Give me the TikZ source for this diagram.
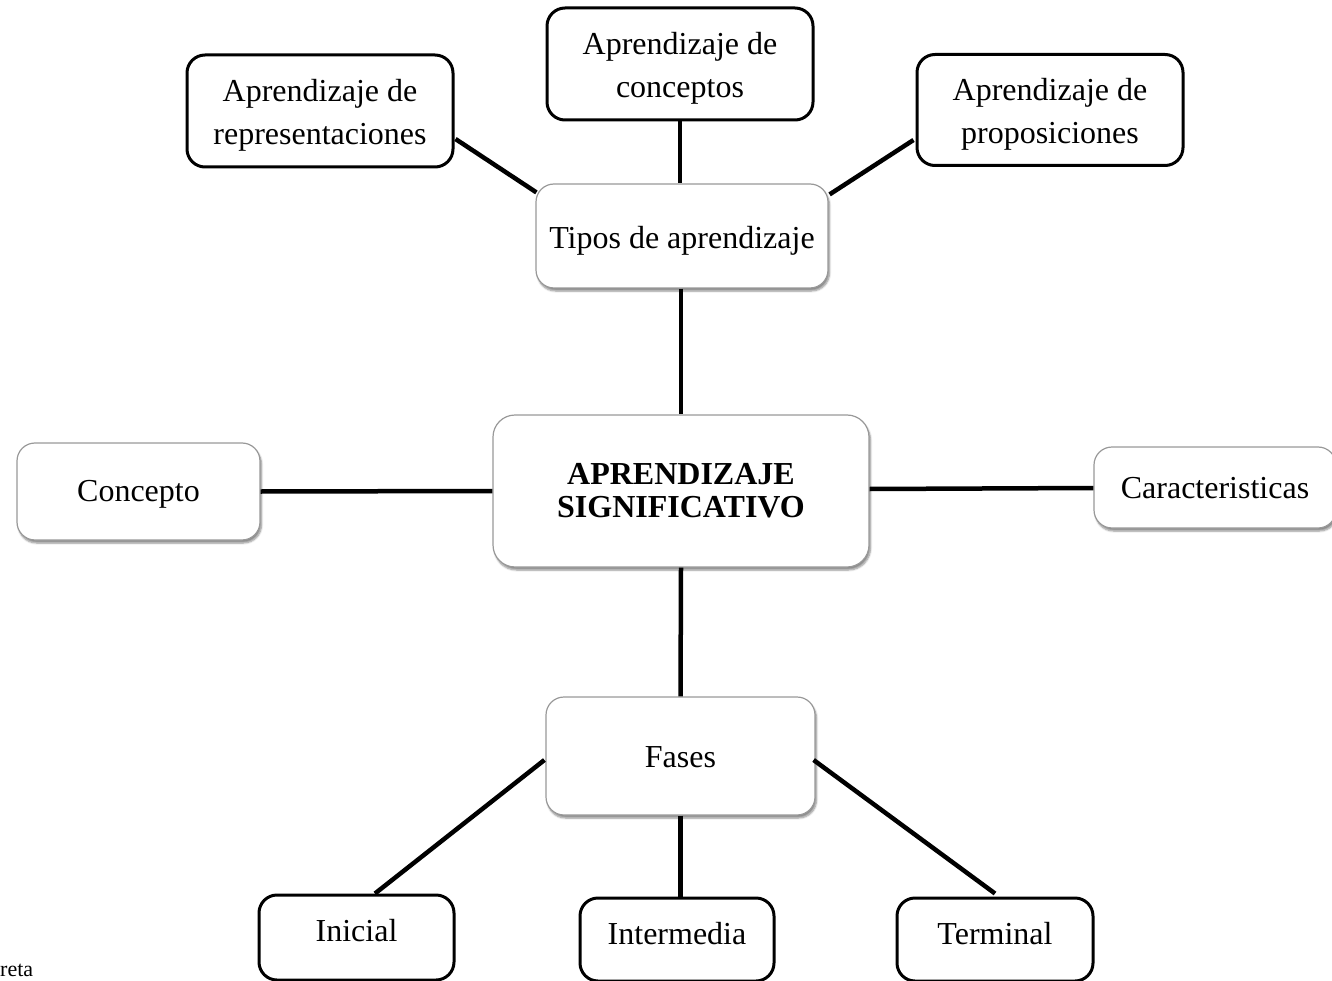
\documentclass[tikz,border=0pt]{standalone}
\usepackage{fontspec}
\setmainfont{Liberation Serif}
\usetikzlibrary{shadows.blur,calc}
\newsavebox{\liftbox}
\newcommand{\liftxt}[2]{\sbox{\liftbox}{\begin{tabular}{@{}c@{}}#2\end{tabular}}\raisebox{#1}[\ht\liftbox][\dp\liftbox]{\usebox{\liftbox}}}
\begin{document}
\begin{tikzpicture}[x=1pt,y=-1pt,
  softbox/.style={draw=black!40, line width=1.2pt, rounded corners=18pt, fill=white,
    blur shadow={shadow xshift=1.5pt, shadow yshift=-3pt, shadow blur steps=6, shadow opacity=45},
    align=center, inner sep=0pt, font=\fontsize{32}{42}\selectfont},
  hardbox/.style={draw=black, line width=3pt, rounded corners=18pt, fill=white,
    align=center, inner sep=0pt, font=\fontsize{32}{43}\selectfont},
  link/.style={line width=4.5pt, black}]
\clip (0,0) rectangle (1332,981);
\useasboundingbox (0,0) rectangle (1332,981);

% top boxes
\node[hardbox, minimum width=266pt, minimum height=112pt] (rep) at (320,111) {\liftxt{-3pt}{Aprendizaje de\\representaciones}};
\node[hardbox, minimum width=266pt, minimum height=112pt] (con) at (680,64) {\liftxt{-3pt}{Aprendizaje de\\conceptos}};
\node[hardbox, minimum width=266pt, minimum height=111pt] (prop) at (1050,110) {\liftxt{-3pt}{Aprendizaje de\\proposiciones}};

% shadowed boxes
\node[softbox, minimum width=292pt, minimum height=104pt] (tipos) at (682,236) {\liftxt{-4pt}{Tipos de aprendizaje}};
\node[softbox, minimum width=376pt, minimum height=152pt, rounded corners=22pt,
      font=\fontsize{32}{33}\selectfont\bfseries] (central) at (681,491) {\liftxt{-3pt}{APRENDIZAJE\\SIGNIFICATIVO}};
\node[softbox, minimum width=243pt, minimum height=97pt] (concepto) at (138.5,491.5) {\liftxt{-2pt}{Concepto}};
\node[softbox, minimum width=242pt, minimum height=81pt] (caract) at (1215,487.5) {\liftxt{-3pt}{Caracteristicas}};
\node[softbox, minimum width=269pt, minimum height=118pt] (fases) at (680.5,756) {\liftxt{-3pt}{Fases}};

% bottom boxes
\node[hardbox, minimum width=195pt, minimum height=85pt] (ini) at (356.5,937.5) {\liftxt{5pt}{Inicial}};
\node[hardbox, minimum width=194pt, minimum height=83pt] (inter) at (677,939.5) {\liftxt{4pt}{Intermedia}};
\node[hardbox, minimum width=196pt, minimum height=83pt] (term) at (995,939.5) {\liftxt{4pt}{Terminal}};

% connectors
\draw[link] ($(rep.east)+(1,28)$) -- ($(tipos.north west)+(1,9)$);
\draw[link] (con.south) -- (con.south |- tipos.north);
\draw[link] ($(prop.west)+(-2,30)$) -- ($(tipos.north east)+(1,11)$);
\draw[link] (central.north |- tipos.south) -- (central.north);
\draw[link] (concepto.east) -- (central.west);
\draw[link] ($(central.east)+(0,-2)$) -- ($(caract.west)+(0,0.5)$);
\draw[link] (central.south) -- (fases.north);
\draw[link] ($(fases.west)+(-1,4)$) -- ($(ini.north)+(18.5,0)$);
\draw[link] (fases.south) -- (fases.south |- inter.north);
\draw[link] ($(fases.east)+(-2,4)$) -- ($(term.north)+(0,-3)$);

% footer fragment
\node[anchor=base west, inner sep=0pt, font=\fontsize{22}{26}\selectfont] (foot) at (0,976) {reta};
\end{tikzpicture}
\end{document}
